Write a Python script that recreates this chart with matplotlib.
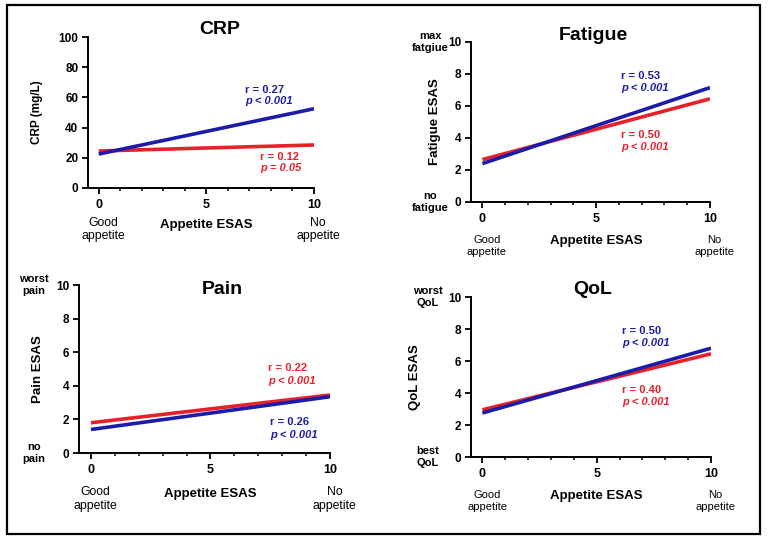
import matplotlib
matplotlib.use("Agg")
import matplotlib.pyplot as plt
from matplotlib.patches import Rectangle
from matplotlib.ticker import MultipleLocator

plt.rcParams['font.family'] = ['Liberation Sans', 'DejaVu Sans']

BLUE = '#1c1caa'
RED = '#e8202a'

# appetite ESAS range of the regression lines
x_ends = [0, 10]

titles = ['CRP', 'Fatigue', 'Pain', 'QoL']
ylabels = ['CRP (mg/L)', 'Fatigue ESAS', 'Pain ESAS', 'QoL ESAS']
ymax = [100, 10, 10, 10]
ystep = [20, 2, 2, 2]
top_notes = [None, 'max\nfatgiue', 'worst\npain', 'worst\nQoL']
bottom_notes = [None, 'no\nfatigue', 'no\npain', 'best\nQoL']

blue_lines = [[22.5, 52.5], [2.4, 7.15], [1.4, 3.35], [2.75, 6.8]]
red_lines = [[24.5, 28.5], [2.65, 6.45], [1.8, 3.45], [2.95, 6.45]]
blue_stats = [('0.27', '<', '0.001'), ('0.53', '<', '0.001'), ('0.26', '<', '0.001'), ('0.50', '<', '0.001')]
red_stats = [('0.12', '=', '0.05'), ('0.50', '<', '0.001'), ('0.22', '<', '0.001'), ('0.40', '<', '0.001')]
# where the stat labels sit (data coords: x, y of r line)
blue_pos = [(6.8, 65), (6.1, 7.9), (7.5, 1.85), (6.1, 7.9)]
red_pos = [(7.5, 20.5), (6.1, 4.2), (7.4, 5.05), (6.1, 4.2)]

# layout in pixels
boxes = [(88, 37, 314, 188), (471, 42, 710, 202), (79, 285, 330, 453), (471, 297, 711, 457)]
title_xy = [(220, 30), (593, 35), (222, 290), (593, 290)]
ylabel_x = [-0.2, -0.125, -0.14, -0.21]
note_x = [0, -0.17, -0.18, -0.18]
ylabel_size = [8.5, 9.5, 9.5, 9.5]
foot_size = [8.8, 8, 8.8, 8]
W, H = 770, 545

fig = plt.figure(figsize=(7.7, 5.45), dpi=100)
fig.patches.append(Rectangle((7 / W, 1 - 534 / H), 753 / W, 529 / H, transform=fig.transFigure,
                             fill=False, edgecolor='black', linewidth=1.6))

for i in range(4):
    l, t, r, b = boxes[i]
    ax = fig.add_axes([l / W, 1 - b / H, (r - l) / W, (b - t) / H])
    ax.plot(x_ends, red_lines[i], color=RED, linewidth=2.6, solid_capstyle='butt', zorder=3)
    ax.plot(x_ends, blue_lines[i], color=BLUE, linewidth=2.6, solid_capstyle='butt', zorder=4)
    ax.set_xlim(-0.5, 10)
    ax.set_ylim(0, ymax[i])
    ax.xaxis.set_major_locator(MultipleLocator(5))
    ax.xaxis.set_minor_locator(MultipleLocator(1))
    ax.yaxis.set_major_locator(MultipleLocator(ystep[i]))
    for s in ['top', 'right']:
        ax.spines[s].set_visible(False)
    for s in ['left', 'bottom']:
        ax.spines[s].set_linewidth(1.4)
    ax.tick_params(which='major', length=4, width=1.3, labelsize=9, pad=3)
    ax.tick_params(which='minor', length=2.5, width=1.1)
    ax.tick_params(axis='y', labelsize=8.5)
    ax.xaxis.set_tick_params(pad=4)
    for lab in ax.get_xticklabels() + ax.get_yticklabels():
        lab.set_fontweight('bold')

    ax.set_ylabel(ylabels[i], fontsize=ylabel_size[i], fontweight='bold')
    ax.yaxis.set_label_coords(ylabel_x[i], 0.5)
    fig.text(title_xy[i][0] / W, 1 - title_xy[i][1] / H, titles[i], fontsize=14,
             fontweight='bold', ha='center', va='center')

    tr = ax.get_xaxis_transform()
    ax.text(5, -0.245, 'Appetite ESAS', transform=tr, fontsize=9.5, fontweight='bold',
            ha='center', va='center')
    ax.text(0.2, -0.275, 'Good\nappetite', transform=tr, fontsize=foot_size[i], ha='center',
            va='center', linespacing=1.2)
    ax.text(10.2, -0.275, 'No\nappetite', transform=tr, fontsize=foot_size[i], ha='center',
            va='center', linespacing=1.2)

    if top_notes[i]:
        ax.text(note_x[i], 1.0, top_notes[i], transform=ax.transAxes, fontsize=8, fontweight='bold',
                ha='center', va='center', linespacing=1.15)
        ax.text(note_x[i], 0.0, bottom_notes[i], transform=ax.transAxes, fontsize=8,
                fontweight='bold', ha='center', va='center', linespacing=1.15)

    dy = ymax[i] * 0.075
    for stats, pos, col in [(blue_stats[i], blue_pos[i], BLUE), (red_stats[i], red_pos[i], RED)]:
        rv, op, pv = stats
        ax.text(pos[0], pos[1], 'r = ' + rv, color=col, fontsize=8, fontweight='bold',
                ha='left', va='center')
        ax.text(pos[0], pos[1] - dy, 'p ' + op + ' ' + pv, color=col, fontsize=8,
                fontweight='bold', style='italic', ha='left', va='center')

fig.savefig('out.png', dpi=100)
